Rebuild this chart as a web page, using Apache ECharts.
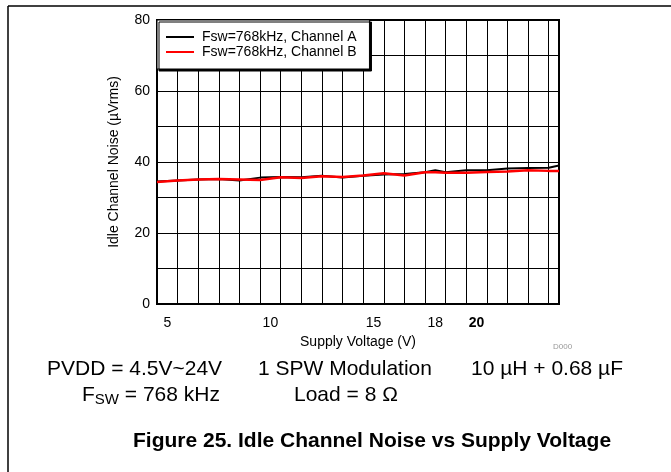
<!DOCTYPE html>
<html>
<head>
<meta charset="utf-8">
<title>Idle Channel Noise vs Supply Voltage</title>
<script src="https://cdn.jsdelivr.net/npm/echarts@6/dist/echarts.min.js"></script>
<style>
  html, body { margin: 0; padding: 0; background: #fff; }
  #chart { width: 671px; height: 472px; }
</style>
</head>
<body>
<div id="chart"></div>
<script>
// supply voltage (V)
const voltage = [4.5, 5.5, 6.5, 7.5, 8.5, 9.5, 10.5, 11.5, 12.5, 13.5, 14.5, 15.5, 16.5, 17.5, 18, 18.5, 19.5, 20.5, 21.5, 22.5, 23.5, 24];
// idle channel noise (uVrms)
const channelA = [34.5, 34.8, 35.1, 35.2, 34.8, 35.6, 35.8, 35.7, 36.1, 35.6, 36.1, 36.5, 36.6, 37.1, 37.7, 37.1, 37.7, 37.7, 38.2, 38.3, 38.4, 39.0];
const channelB = [34.4, 34.8, 35.1, 35.2, 35.1, 34.9, 35.7, 35.5, 36.0, 35.8, 36.2, 36.8, 36.2, 37.1, 37.1, 37.0, 37.0, 37.2, 37.3, 37.7, 37.5, 37.5];
const xLabels = [5, 10, 15, 18, 20];
const xGrid = [4.5, 5.5, 6.5, 7.5, 8.5, 9.5, 10.5, 11.5, 12.5, 13.5, 14.5, 15.5, 16.5, 17.5, 18.5, 19.5, 20.5, 21.5, 22.5, 23.5, 24];

const FONT = '"Liberation Sans", Arial, sans-serif';

const pairs = (xs, ys) => xs.map((x, i) => [x, ys[i]]);

const chart = echarts.init(document.getElementById('chart'), null, { renderer: 'canvas' });

const option = {
  backgroundColor: '#fff',
  animation: false,
  textStyle: { fontFamily: FONT, color: '#000' },
  grid: {
    left: 157,
    top: 20,
    right: 112,
    bottom: 168,
    show: true,
    borderColor: '#000',
    borderWidth: 2
  },
  legend: {
    orient: 'vertical',
    left: 157,
    top: 20,
    itemWidth: 28,
    itemHeight: 14,
    itemGap: 1,
    padding: [10, 13, 10, 8],
    backgroundColor: '#fff',
    borderColor: '#000',
    borderWidth: 1,
    shadowColor: '#000',
    shadowOffsetX: 2,
    shadowOffsetY: 2,
    shadowBlur: 0,
    itemStyle: { opacity: 0 },
    textStyle: { fontFamily: FONT, fontSize: 14, color: '#000', padding: [0, 0, 0, 3] },
    data: ['Fsw=768kHz, Channel A', 'Fsw=768kHz, Channel B']
  },
  xAxis: {
    type: 'value',
    min: 4.5,
    max: 24,
    name: 'Supply Voltage (V)',
    nameLocation: 'middle',
    nameGap: 30,
    nameTextStyle: { fontFamily: FONT, fontSize: 14, color: '#000' },
    axisLine: { show: false },
    axisTick: { show: false, customValues: xGrid },
    axisLabel: {
      customValues: xLabels,
      margin: 12,
      fontFamily: FONT,
      fontSize: 14,
      color: '#000',
      formatter: v => (v === 20 ? '{b|20}' : String(v)),
      rich: { b: { fontFamily: FONT, fontSize: 14, fontWeight: 'bold', color: '#000' } }
    },
    splitLine: { show: true, lineStyle: { color: '#000', width: 1 } }
  },
  yAxis: {
    type: 'value',
    min: 0,
    max: 80,
    interval: 10,
    name: 'Idle Channel Noise (µVrms)',
    nameLocation: 'middle',
    nameGap: 36,
    nameTextStyle: { fontFamily: FONT, fontSize: 14, color: '#000' },
    axisLine: { show: false },
    axisTick: { show: false },
    axisLabel: {
      margin: 7,
      fontFamily: FONT,
      fontSize: 14,
      color: '#000',
      formatter: v => (v % 20 === 0 ? String(v) : '')
    },
    splitLine: { show: true, lineStyle: { color: '#000', width: 1 } }
  },
  series: [
    {
      name: 'Fsw=768kHz, Channel A',
      type: 'line',
      data: pairs(voltage, channelA),
      showSymbol: false,
      symbol: 'none',
      color: '#000',
      lineStyle: { color: '#000', width: 2 },
      z: 3
    },
    {
      name: 'Fsw=768kHz, Channel B',
      type: 'line',
      data: pairs(voltage, channelB),
      showSymbol: false,
      symbol: 'none',
      color: '#ff0000',
      lineStyle: { color: '#ff0000', width: 2.5 },
      z: 4
    }
  ],
  graphic: [
    // page frame
    { type: 'line', shape: { x1: 8, y1: 6, x2: 671, y2: 6 }, style: { stroke: '#000', lineWidth: 1.5 } },
    { type: 'line', shape: { x1: 8, y1: 6, x2: 8, y2: 472 }, style: { stroke: '#000', lineWidth: 1.5 } },
    { type: 'text', left: 553, top: 343, style: { text: 'D000', font: '8px ' + FONT, fill: '#999' } },
    { type: 'text', left: 47, top: 359, style: { text: 'PVDD = 4.5V~24V', font: '21px ' + FONT, fill: '#000' } },
    { type: 'text', left: 258, top: 359, style: { text: '1 SPW Modulation', font: '21px ' + FONT, fill: '#000' } },
    { type: 'text', left: 471, top: 359, style: { text: '10 µH + 0.68 µF', font: '21px ' + FONT, fill: '#000' } },
    {
      type: 'text', left: 82, top: 385,
      style: {
        text: '{n|F}{s|SW}{n| = 768 kHz}',
        rich: {
          n: { fontFamily: FONT, fontSize: 21, color: '#000' },
          s: { fontFamily: FONT, fontSize: 15, color: '#000', padding: [8, 0, 0, 0] }
        }
      }
    },
    { type: 'text', left: 294, top: 385, style: { text: 'Load = 8 Ω', font: '21px ' + FONT, fill: '#000' } },
    { type: 'text', left: 133, top: 431, style: { text: 'Figure 25. Idle Channel Noise vs Supply Voltage', font: 'bold 21px ' + FONT, fill: '#000' } }
  ]
};

chart.setOption(option);
window.addEventListener('resize', () => chart.resize());
</script>
</body>
</html>
